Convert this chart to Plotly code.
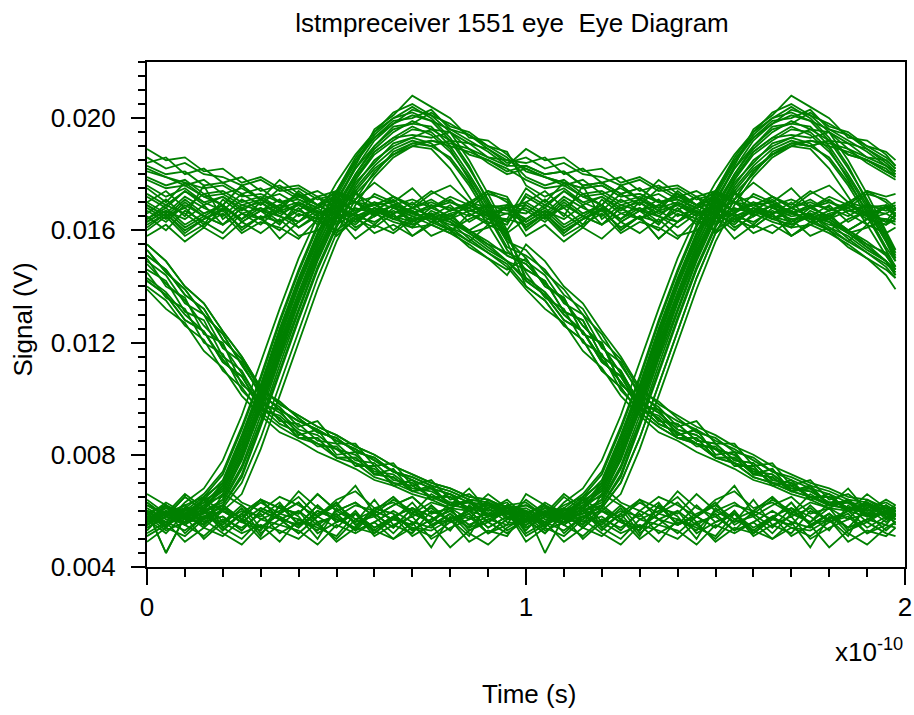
import plotly.graph_objects as go

# ---- time axis (units of 1e-10 s) ----
time_e10 = [0.00, 0.05, 0.10, 0.15, 0.20, 0.25, 0.30, 0.35, 0.40, 0.45,
            0.50, 0.55, 0.60, 0.65, 0.70, 0.75, 0.80, 0.85, 0.90, 0.95,
            1.00, 1.05, 1.10, 1.15, 1.20, 1.25, 1.30, 1.35, 1.40, 1.45,
            1.50, 1.55, 1.60, 1.65, 1.70, 1.75, 1.80, 1.85, 1.90, 1.95, 1.975]

# ---- one-unit-interval waveform segments, signal in mV ----
# low -> low
ll_1 = [5.9, 5.4, 6.1, 5.6, 5.8, 5.3, 6.0, 5.7, 5.5, 6.2, 5.6, 5.9, 5.4, 5.8, 6.1, 5.5, 5.7, 6.0, 5.4, 5.8]
ll_2 = [5.5, 6.0, 5.2, 5.8, 5.6, 6.2, 5.4, 5.9, 5.7, 5.3, 6.0, 5.6, 5.8, 5.2, 5.9, 5.6, 6.1, 5.3, 5.7, 5.5]
ll_3 = [6.3, 5.8, 6.5, 6.0, 6.2, 5.7, 6.4, 6.1, 5.9, 6.6, 6.0, 6.3, 5.8, 6.2, 6.5, 5.9, 6.1, 6.4, 5.8, 6.2]
ll_4 = [5.2, 5.6, 4.9, 5.4, 5.1, 5.7, 5.0, 5.5, 5.3, 4.8, 5.5, 5.2, 5.6, 5.0, 5.4, 5.3, 5.7, 4.9, 5.3, 5.1]
ll_5 = [6.0, 4.5, 5.8, 5.5, 6.1, 5.7, 5.4, 5.9, 6.3, 5.6, 5.8, 5.3, 6.0, 5.7, 5.5, 6.2, 5.6, 5.9, 5.2, 5.7]
ll_6 = [5.7, 6.1, 5.9, 6.4, 5.6, 6.0, 5.8, 6.3, 5.5, 5.9, 6.2, 5.7, 6.0, 6.5, 5.8, 6.1, 5.6, 6.0, 6.3, 5.9]
ll_7 = [5.4, 5.8, 5.5, 5.1, 5.7, 5.4, 5.9, 5.2, 5.6, 5.5, 5.0, 5.7, 5.3, 5.8, 5.4, 5.1, 5.6, 5.8, 5.2, 5.5]
ll_8 = [6.6, 6.2, 5.9, 6.4, 6.0, 5.8, 6.3, 5.9, 6.7, 6.1, 5.8, 6.2, 6.0, 6.5, 5.9, 6.3, 6.1, 5.7, 6.4, 6.0]
ll_9 = [5.6, 6.2, 5.5, 6.0, 5.3, 5.9, 6.4, 5.7, 5.2, 5.8, 6.3, 5.5, 5.9, 5.4, 6.1, 5.8, 5.3, 6.2, 5.6, 6.0]
ll_10 = [5.1, 5.5, 5.8, 5.0, 5.6, 5.2, 5.5, 4.9, 5.7, 5.4, 5.1, 5.9, 5.3, 5.0, 5.6, 5.4, 5.9, 5.2, 4.8, 5.4]
ll_11 = [6.2, 5.9, 6.6, 6.1, 6.9, 6.3, 6.0, 6.5, 6.2, 5.8, 6.4, 6.7, 6.1, 6.3, 5.9, 6.6, 6.2, 6.8, 6.0, 6.4]
ll_12 = [5.8, 5.3, 5.6, 6.1, 5.4, 5.0, 5.7, 5.5, 6.0, 5.2, 5.6, 5.9, 5.1, 5.5, 5.8, 5.0, 5.4, 5.7, 5.9, 5.3]
ll_13 = [5.5, 5.9, 6.2, 5.7, 6.0, 5.6, 6.1, 5.8, 5.4, 6.0, 5.7, 5.4, 6.1, 5.9, 5.3, 5.7, 6.0, 5.5, 5.8, 6.1]
ll_14 = [6.0, 5.6, 5.3, 5.8, 5.5, 6.1, 5.2, 5.7, 6.0, 5.5, 5.9, 5.3, 5.6, 6.0, 5.6, 4.7, 5.8, 5.4, 6.1, 5.6]
ll_15 = [5.3, 6.0, 5.6, 6.5, 5.4, 5.9, 5.1, 6.2, 5.8, 5.0, 6.1, 5.6, 6.4, 5.5, 5.2, 6.0, 5.7, 5.1, 6.3, 5.7]
ll_16 = [6.4, 5.9, 6.1, 5.5, 6.6, 6.2, 5.7, 6.0, 6.5, 5.8, 6.2, 6.9, 5.9, 6.4, 6.0, 5.6, 6.3, 6.0, 6.6, 6.1]
ll_17 = [4.9, 5.4, 5.1, 5.7, 5.2, 4.8, 5.5, 5.3, 5.0, 5.6, 4.9, 5.4, 5.2, 5.8, 5.1, 5.5, 4.7, 5.3, 5.6, 5.2]
ll_18 = [5.7, 5.2, 5.9, 5.4, 6.0, 5.6, 5.3, 6.2, 5.5, 5.8, 5.4, 6.0, 5.2, 5.7, 6.3, 5.5, 5.9, 5.4, 5.7, 6.0]
# high -> high
hh_1 = [16.8, 16.4, 17.0, 16.5, 16.9, 16.3, 16.7, 17.1, 16.5, 16.8, 16.2, 16.6, 17.0, 16.4, 16.8, 16.5, 16.9, 16.3, 16.7, 16.6]
hh_2 = [16.3, 16.7, 16.1, 16.5, 16.2, 16.8, 16.4, 16.0, 16.6, 16.3, 16.7, 16.1, 16.5, 16.9, 16.2, 16.6, 16.0, 16.4, 16.7, 16.3]
hh_3 = [17.2, 16.8, 17.4, 17.0, 16.7, 17.3, 16.9, 17.5, 17.1, 16.8, 17.3, 17.0, 16.6, 17.2, 16.9, 17.4, 17.0, 16.8, 17.3, 17.1]
hh_4 = [16.0, 16.5, 15.8, 16.2, 16.6, 15.9, 16.3, 16.1, 15.7, 16.4, 16.0, 16.5, 15.9, 16.2, 15.8, 16.3, 16.6, 15.9, 16.1, 16.4]
hh_5 = [16.6, 17.1, 16.5, 17.6, 16.4, 16.9, 16.7, 16.2, 17.0, 16.6, 16.8, 17.4, 16.5, 16.9, 16.3, 16.8, 17.1, 16.6, 16.2, 16.9]
hh_6 = [16.9, 16.5, 16.8, 16.2, 17.1, 16.6, 16.4, 16.9, 16.7, 17.2, 16.5, 16.3, 16.8, 16.6, 17.0, 16.4, 16.7, 16.9, 16.5, 16.8]
hh_7 = [16.5, 16.0, 16.7, 16.3, 15.9, 16.6, 16.2, 16.8, 16.1, 16.5, 15.8, 16.4, 16.7, 16.0, 16.5, 16.2, 15.9, 16.6, 16.3, 16.0]
hh_8 = [17.0, 17.4, 16.8, 17.3, 16.9, 17.6, 17.1, 16.7, 17.4, 16.9, 17.2, 16.6, 17.3, 17.0, 17.5, 16.8, 17.2, 16.9, 17.4, 17.0]
hh_9 = [16.4, 16.9, 16.6, 16.1, 16.8, 16.4, 17.0, 16.5, 16.3, 16.9, 16.6, 16.2, 16.8, 16.5, 16.1, 16.7, 16.4, 17.0, 16.6, 16.3]
hh_10 = [15.8, 16.2, 15.6, 16.1, 15.7, 16.3, 15.9, 16.4, 15.8, 16.0, 16.5, 15.7, 16.2, 15.9, 16.4, 15.8, 16.1, 15.6, 16.2, 15.9]
hh_11 = [17.5, 17.0, 17.7, 17.2, 16.9, 17.6, 17.1, 17.8, 17.3, 16.9, 17.4, 17.1, 17.7, 17.2, 16.8, 17.3, 17.6, 17.0, 17.4, 17.2]
hh_12 = [16.1, 16.6, 15.9, 16.4, 16.8, 16.0, 16.5, 15.7, 16.3, 16.7, 15.9, 16.4, 16.1, 16.6, 15.8, 16.2, 16.5, 16.0, 16.4, 16.2]
# high, starting to fall at the end of the interval
hhf_1 = [16.7, 16.3, 16.9, 16.5, 16.2, 16.8, 16.4, 16.7, 16.3, 16.9, 16.5, 16.6, 16.2, 16.8, 16.5, 16.6, 16.1, 15.8, 15.3, 14.9]
hhf_2 = [16.4, 16.8, 16.2, 16.6, 16.9, 16.3, 16.7, 16.5, 16.1, 16.6, 16.8, 16.3, 16.7, 16.4, 16.2, 16.5, 16.3, 15.7, 15.2, 14.8]
hhf_3 = [17.0, 16.6, 17.2, 16.8, 16.5, 17.1, 16.7, 16.9, 17.3, 16.6, 16.8, 17.0, 16.5, 16.9, 16.6, 16.4, 16.4, 16.0, 15.6, 15.1]
hhf_4 = [16.2, 16.6, 16.0, 16.4, 16.7, 16.1, 16.5, 16.3, 16.8, 16.2, 16.5, 16.0, 16.6, 16.3, 16.1, 16.2, 15.9, 15.5, 15.0, 14.6]
hhf_5 = [16.9, 16.5, 17.1, 16.6, 16.9, 16.4, 16.8, 16.5, 17.0, 16.7, 16.3, 16.8, 16.6, 16.9, 16.7, 16.3, 16.0, 15.4, 15.0, 14.4]
hhf_6 = [16.3, 16.7, 16.4, 16.9, 16.2, 16.6, 16.8, 16.3, 16.7, 16.4, 16.9, 16.5, 16.3, 16.7, 16.4, 16.5, 16.2, 16.0, 15.5, 15.2]
hhf_7 = [17.3, 16.9, 17.4, 16.9, 17.2, 16.7, 17.1, 16.8, 17.3, 16.9, 17.1, 16.7, 17.0, 16.8, 16.6, 16.9, 16.4, 15.9, 15.5, 14.9]
# high after an overshoot (decaying)
hho_1 = [18.1, 17.9, 17.6, 17.8, 17.3, 17.5, 17.1, 17.3, 16.9, 17.2, 16.8, 17.0, 16.7, 17.1, 16.6, 16.9, 16.8, 16.5, 16.9, 16.7]
hho_2 = [18.3, 18.0, 18.1, 17.6, 17.7, 17.3, 17.5, 17.0, 17.2, 16.9, 17.1, 16.7, 16.9, 17.0, 16.6, 16.8, 16.5, 16.9, 16.6, 16.8]
hho_3 = [18.6, 18.2, 18.4, 18.0, 17.9, 17.6, 17.8, 17.4, 17.5, 17.1, 17.3, 17.0, 16.9, 17.2, 16.8, 17.0, 16.7, 16.9, 16.6, 16.8]
hho_4 = [17.9, 17.6, 17.8, 17.3, 17.4, 17.0, 17.2, 16.8, 17.0, 16.6, 16.9, 16.5, 16.8, 16.4, 16.7, 16.3, 16.6, 16.8, 16.4, 16.6]
hho_5 = [18.9, 18.5, 18.6, 18.1, 18.2, 17.7, 17.9, 17.5, 17.6, 17.2, 17.4, 17.0, 17.2, 16.9, 17.1, 16.8, 17.0, 16.7, 16.9, 16.8]
hho_6 = [17.6, 17.2, 17.5, 17.0, 17.2, 16.8, 17.0, 16.6, 16.9, 16.5, 16.8, 16.4, 16.7, 16.5, 16.3, 16.6, 16.4, 16.7, 16.5, 16.4]
hho_7 = [18.4, 18.6, 18.0, 18.2, 17.7, 17.9, 17.4, 17.6, 17.2, 17.4, 17.0, 17.3, 16.9, 17.2, 16.8, 17.1, 16.7, 17.0, 16.8, 16.9]
# high after an overshoot, falling at the end
hhof_1 = [18.2, 17.9, 17.7, 17.5, 17.6, 17.2, 17.3, 17.0, 17.1, 16.8, 17.0, 16.7, 16.9, 16.6, 16.8, 16.5, 16.3, 15.9, 15.4, 14.9]
hhof_2 = [17.8, 17.5, 17.6, 17.2, 17.3, 16.9, 17.1, 16.7, 16.9, 16.6, 16.8, 16.5, 16.7, 16.4, 16.6, 16.4, 16.0, 15.6, 15.2, 14.7]
# falling edge (high -> low)
hl_1 = [14.8, 14.1, 13.5, 12.6, 11.9, 10.9, 9.9, 9.5, 8.9, 8.7, 8.2, 8.0, 7.4, 7.3, 6.8, 6.7, 6.3, 6.3, 6.0, 6.1]
hl_2 = [14.3, 13.8, 13.0, 12.4, 11.4, 10.6, 9.7, 9.1, 8.8, 8.4, 8.2, 7.7, 7.5, 7.0, 6.9, 6.5, 6.5, 6.1, 6.2, 5.9]
hl_3 = [15.3, 14.5, 13.9, 13.0, 12.3, 11.2, 10.2, 9.6, 9.2, 8.9, 8.5, 8.2, 7.8, 7.4, 7.1, 6.8, 6.6, 6.3, 6.2, 6.0]
hl_4 = [14.0, 13.5, 12.6, 12.1, 11.0, 10.4, 9.5, 9.0, 8.6, 8.4, 7.9, 7.7, 7.2, 7.0, 6.7, 6.5, 6.2, 6.1, 5.9, 5.9]
hl_5 = [14.6, 14.2, 13.1, 12.8, 11.5, 11.0, 9.8, 9.6, 8.7, 8.9, 8.0, 8.1, 7.3, 7.5, 6.7, 6.9, 6.2, 6.4, 5.9, 6.2]
hl_6 = [15.0, 14.0, 13.6, 12.3, 12.0, 10.5, 10.0, 9.2, 9.1, 8.5, 8.4, 7.8, 7.7, 7.1, 7.0, 6.5, 6.5, 6.0, 6.2, 5.8]
hl_7 = [14.5, 13.6, 13.2, 12.0, 11.6, 10.3, 9.6, 9.4, 8.8, 8.3, 8.3, 7.6, 7.6, 6.9, 7.1, 6.4, 6.6, 6.0, 6.3, 5.8]
hl_8 = [15.5, 14.9, 14.0, 13.4, 12.4, 11.5, 10.4, 9.8, 9.4, 9.0, 8.7, 8.3, 8.0, 7.6, 7.3, 7.0, 6.8, 6.5, 6.4, 6.1]
hl_9 = [13.9, 13.2, 12.7, 11.7, 11.1, 10.1, 9.4, 8.8, 8.5, 8.1, 7.8, 7.5, 7.1, 6.9, 6.6, 6.4, 6.1, 6.0, 5.8, 5.9]
hl_10 = [14.9, 14.4, 13.4, 13.0, 11.8, 11.3, 10.1, 9.7, 9.0, 9.2, 8.4, 8.4, 7.6, 7.7, 6.9, 7.1, 6.4, 6.6, 6.1, 6.3]
hl_11 = [14.2, 13.7, 12.8, 12.4, 11.3, 10.8, 9.7, 9.3, 8.6, 8.6, 7.9, 7.9, 7.3, 7.2, 6.7, 6.8, 6.2, 6.3, 5.8, 6.0]
hl_12 = [15.1, 14.6, 13.7, 13.2, 12.1, 11.4, 10.3, 9.9, 9.3, 8.8, 8.6, 8.1, 7.9, 7.4, 7.2, 6.9, 6.7, 6.4, 6.3, 6.0]
# rising edge with overshoot (low -> high)
lh_1 = [5.6, 6.0, 5.7, 6.2, 6.7, 8.1, 9.9, 11.9, 13.7, 15.4, 16.9, 18.0, 18.9, 19.5, 19.9, 19.6, 19.5, 19.1, 18.9, 18.4]
lh_2 = [6.0, 5.5, 5.9, 6.0, 6.3, 7.5, 9.2, 11.2, 13.1, 14.9, 16.4, 17.6, 18.5, 19.0, 19.3, 19.6, 19.2, 19.1, 18.6, 18.5]
lh_3 = [5.9, 6.2, 5.8, 6.4, 7.1, 8.7, 10.5, 12.5, 14.3, 15.9, 17.2, 18.4, 19.3, 19.8, 20.3, 20.1, 19.8, 19.4, 19.0, 18.6]
lh_4 = [5.4, 5.8, 5.6, 5.7, 6.2, 7.2, 9.0, 10.9, 12.8, 14.6, 16.1, 17.3, 18.0, 18.8, 19.1, 19.2, 19.0, 18.8, 18.5, 18.2]
lh_5 = [5.7, 6.1, 6.0, 6.5, 7.0, 8.4, 10.1, 12.2, 14.0, 15.7, 17.0, 18.3, 19.6, 20.1, 20.8, 20.4, 20.0, 19.3, 19.2, 18.7]
lh_6 = [5.8, 5.6, 6.3, 6.8, 7.8, 9.4, 11.3, 13.2, 15.0, 16.5, 17.7, 18.7, 19.5, 20.0, 20.2, 19.9, 19.6, 19.2, 18.8, 18.3]
lh_7 = [5.5, 5.9, 5.6, 5.8, 6.0, 6.6, 8.2, 10.1, 12.0, 13.9, 15.6, 16.9, 17.9, 18.6, 19.0, 19.2, 19.1, 18.9, 18.6, 18.3]
lh_8 = [6.2, 5.8, 6.0, 6.3, 6.9, 8.3, 10.2, 12.1, 14.0, 15.6, 17.0, 18.2, 19.0, 19.7, 19.8, 20.2, 19.7, 19.5, 19.0, 18.8]
lh_9 = [5.6, 5.9, 5.5, 6.0, 6.4, 7.9, 9.6, 11.6, 13.5, 15.2, 16.6, 17.8, 18.8, 19.3, 19.4, 19.3, 19.5, 18.9, 18.4, 18.0]
lh_10 = [5.9, 5.5, 6.1, 6.6, 7.4, 9.0, 10.8, 12.8, 14.6, 16.2, 17.4, 18.5, 19.3, 19.9, 20.0, 20.3, 19.6, 19.4, 18.9, 18.5]
lh_11 = [5.7, 6.0, 5.8, 5.9, 6.1, 7.0, 8.6, 10.5, 12.4, 14.3, 15.9, 17.1, 18.1, 18.7, 19.1, 19.0, 19.2, 18.7, 18.5, 18.1]
# rising edge with overshoot, then falling at the end
lhf_1 = [5.8, 5.5, 6.0, 6.1, 6.8, 8.2, 10.0, 12.0, 13.8, 15.5, 16.8, 17.9, 18.8, 19.3, 19.7, 19.4, 18.8, 17.9, 16.8, 15.6]
lhf_2 = [6.1, 5.7, 5.8, 6.3, 6.5, 7.8, 9.6, 11.5, 13.4, 15.1, 16.5, 17.7, 18.4, 19.1, 19.3, 19.1, 18.5, 17.6, 16.5, 15.3]
lhf_3 = [5.5, 5.9, 5.6, 6.0, 6.9, 8.5, 10.3, 12.3, 14.1, 15.8, 17.1, 18.2, 19.2, 19.8, 20.1, 19.9, 19.2, 18.2, 17.1, 15.9]
lhf_4 = [5.9, 6.2, 5.7, 5.9, 6.4, 7.6, 9.4, 11.4, 13.2, 15.0, 16.4, 17.5, 18.3, 18.9, 19.2, 19.0, 18.6, 17.7, 16.7, 15.6]
lhf_5 = [5.7, 6.1, 5.8, 6.2, 7.0, 8.6, 10.4, 12.4, 14.2, 15.9, 17.3, 18.5, 19.4, 20.0, 20.4, 20.0, 19.3, 18.3, 17.0, 15.8]
lhf_6 = [6.0, 5.6, 5.9, 5.8, 6.2, 7.3, 9.1, 11.0, 12.9, 14.7, 16.2, 17.4, 18.2, 18.7, 19.0, 18.9, 18.2, 17.2, 16.2, 15.1]
lhf_7 = [5.8, 6.3, 5.9, 6.4, 6.7, 8.0, 9.8, 11.8, 13.6, 15.3, 16.7, 18.0, 19.0, 19.6, 19.8, 19.7, 19.0, 18.0, 16.9, 15.7]
lhf_8 = [5.6, 6.0, 5.7, 6.1, 6.6, 7.9, 9.7, 11.7, 13.5, 15.2, 16.6, 17.8, 18.7, 19.2, 19.6, 19.5, 18.9, 17.8, 16.6, 15.4]
lhf_9 = [6.0, 5.8, 6.2, 6.5, 7.3, 8.9, 10.7, 12.7, 14.5, 16.1, 17.4, 18.6, 19.5, 20.2, 20.5, 20.1, 19.5, 18.5, 17.3, 16.0]

# ---- sweeps: (first interval, second interval, last sample in mV) ----
sweeps = [
    (ll_1, ll_2, 5.9), (ll_3, ll_4, 5.4), (ll_5, ll_6, 6.1), (ll_7, ll_8, 6.2),
    (ll_9, ll_10, 5.6), (ll_11, ll_12, 5.6), (ll_13, ll_14, 5.9),
    (ll_15, ll_16, 5.8), (ll_17, ll_18, 5.5),
    (ll_2, lh_1, 18.1), (ll_4, lh_2, 18.2), (ll_6, lhf_1, 15.0), (ll_8, lhf_2, 14.7),
    (ll_10, lh_6, 18.0), (ll_12, lhf_5, 15.1), (ll_14, lh_7, 18.1), (ll_1, lh_5, 18.3),
    (ll_5, lhf_4, 14.9), (ll_9, lh_8, 18.5),
    (ll_16, lh_10, 18.2), (ll_18, lhf_8, 14.9), (ll_13, lh_11, 17.9), (ll_3, lhf_9, 15.3),
    (hl_1, ll_5, 5.8), (hl_2, ll_1, 5.6), (hl_3, lh_3, 18.3), (hl_4, lhf_3, 15.2),
    (hl_5, ll_3, 6.0), (hl_6, lh_4, 17.9), (hl_7, ll_9, 5.7), (hl_8, ll_11, 6.2),
    (hl_9, lhf_6, 14.6), (hl_10, lh_9, 17.8), (hl_3, ll_7, 5.4), (hl_8, lhf_7, 15.0),
    (hl_11, ll_15, 6.0), (hl_12, ll_17, 5.1), (hl_12, lh_11, 18.0), (hl_11, ll_18, 5.9),
    (hh_1, hh_2, 16.8), (hh_3, hh_4, 16.2), (hh_5, hhf_1, 14.4), (hh_6, hhf_2, 14.5),
    (hh_7, hh_8, 16.7), (hh_9, hhf_5, 13.9), (hh_10, hh_9, 16.5), (hh_2, hh_3, 16.8),
    (hh_8, hhf_6, 14.7), (hh_11, hh_12, 16.4), (hh_12, hhf_7, 14.4), (hh_4, hh_11, 17.3),
    (hho_1, hh_5, 16.5), (hho_2, hhf_3, 14.6), (hho_3, hh_6, 17.0), (hho_4, hh_1, 16.4),
    (hho_5, hh_10, 16.1), (hho_6, hhf_4, 14.3), (hho_7, hh_12, 16.6),
    (hhf_1, hl_2, 5.8), (hhf_2, hl_4, 5.7), (hhf_3, hl_1, 6.0), (hhf_4, hl_6, 5.9),
    (hhf_5, hl_8, 6.0), (hhf_6, hl_10, 6.1), (hhf_7, hl_11, 5.8),
    (hhof_1, hl_5, 6.0), (hhof_2, hl_9, 5.7),
    (lh_1, hho_3, 16.6), (lh_2, hhof_1, 14.5), (lh_3, hho_4, 16.8), (lh_4, hhof_2, 14.3),
    (lh_5, hho_1, 16.9), (lh_6, hho_5, 16.6), (lh_7, hho_2, 16.5), (lh_8, hho_6, 16.3),
    (lh_9, hhof_1, 14.6), (lh_10, hho_7, 16.7), (lh_11, hho_2, 16.6),
    (lhf_1, hl_3, 6.1), (lhf_2, hl_5, 5.8), (lhf_3, hl_2, 5.9), (lhf_4, hl_4, 6.0),
    (lhf_5, hl_7, 5.9), (lhf_6, hl_1, 6.0), (lhf_7, hl_6, 5.7),
    (lhf_8, hl_12, 6.1), (lhf_9, hl_11, 5.9),
]

fig = go.Figure()
for first, second, last in sweeps:
    volts = [v / 1000.0 for v in first + second + [last]]
    fig.add_trace(go.Scatter(
        x=time_e10, y=volts, mode="lines",
        line=dict(color="#008000", width=1.8),
        hoverinfo="skip", showlegend=False,
    ))

FONT = "Liberation Sans, Arial, sans-serif"

fig.update_layout(
    width=914, height=715,
    margin=dict(l=147, r=9, t=62, b=148, pad=0),
    paper_bgcolor="white", plot_bgcolor="white",
    font=dict(family=FONT, size=26, color="black"),
    showlegend=False,
    title=dict(text="lstmpreceiver 1551 eye\u00a0 Eye Diagram",
               x=512 / 914, xanchor="center", xref="container",
               y=1 - 23 / 715, yanchor="middle", yref="container",
               font=dict(family=FONT, size=26, color="black")),
)

fig.update_xaxes(
    range=[0, 2], tick0=0, dtick=1, tickformat="d", automargin=False,
    showline=True, linecolor="black", linewidth=2, mirror=True,
    ticks="outside", ticklen=16, tickwidth=2, tickcolor="black",
    minor=dict(dtick=0.1, tick0=0, ticks="outside", ticklen=8, tickwidth=2, tickcolor="black", showgrid=False),
    showgrid=False, zeroline=False,
    tickfont=dict(family=FONT, size=26, color="black"),
)
fig.update_yaxes(
    range=[0.004, 0.022], tick0=0.004, dtick=0.004, tickformat=".3f", automargin=False,
    showline=True, linecolor="black", linewidth=2, mirror=True,
    ticks="outside", ticklen=14, tickwidth=2, tickcolor="black",
    minor=dict(dtick=0.0005, tick0=0.004, ticks="outside", ticklen=7, tickwidth=2, tickcolor="black", showgrid=False),
    showgrid=False, zeroline=False,
    tickfont=dict(family=FONT, size=26, color="black"),
    ticklabelstandoff=10,
)

fig.add_annotation(text="Time (s)", xref="paper", yref="paper",
                   x=(528.5 - 147) / 758, y=(567 - 694) / 505,
                   xanchor="center", yanchor="middle", showarrow=False,
                   font=dict(family=FONT, size=26, color="black"))
fig.add_annotation(text="Signal (V)", xref="paper", yref="paper",
                   x=(23 - 147) / 758, y=0.49, textangle=-90,
                   xanchor="center", yanchor="middle", showarrow=False,
                   font=dict(family=FONT, size=26, color="black"))
fig.add_annotation(text="x10<sup>-10</sup>", xref="paper", yref="paper",
                   x=1.0, y=(567 - 650) / 505,
                   xanchor="right", yanchor="middle", showarrow=False,
                   font=dict(family=FONT, size=26, color="black"))

fig.write_html("out.html")
